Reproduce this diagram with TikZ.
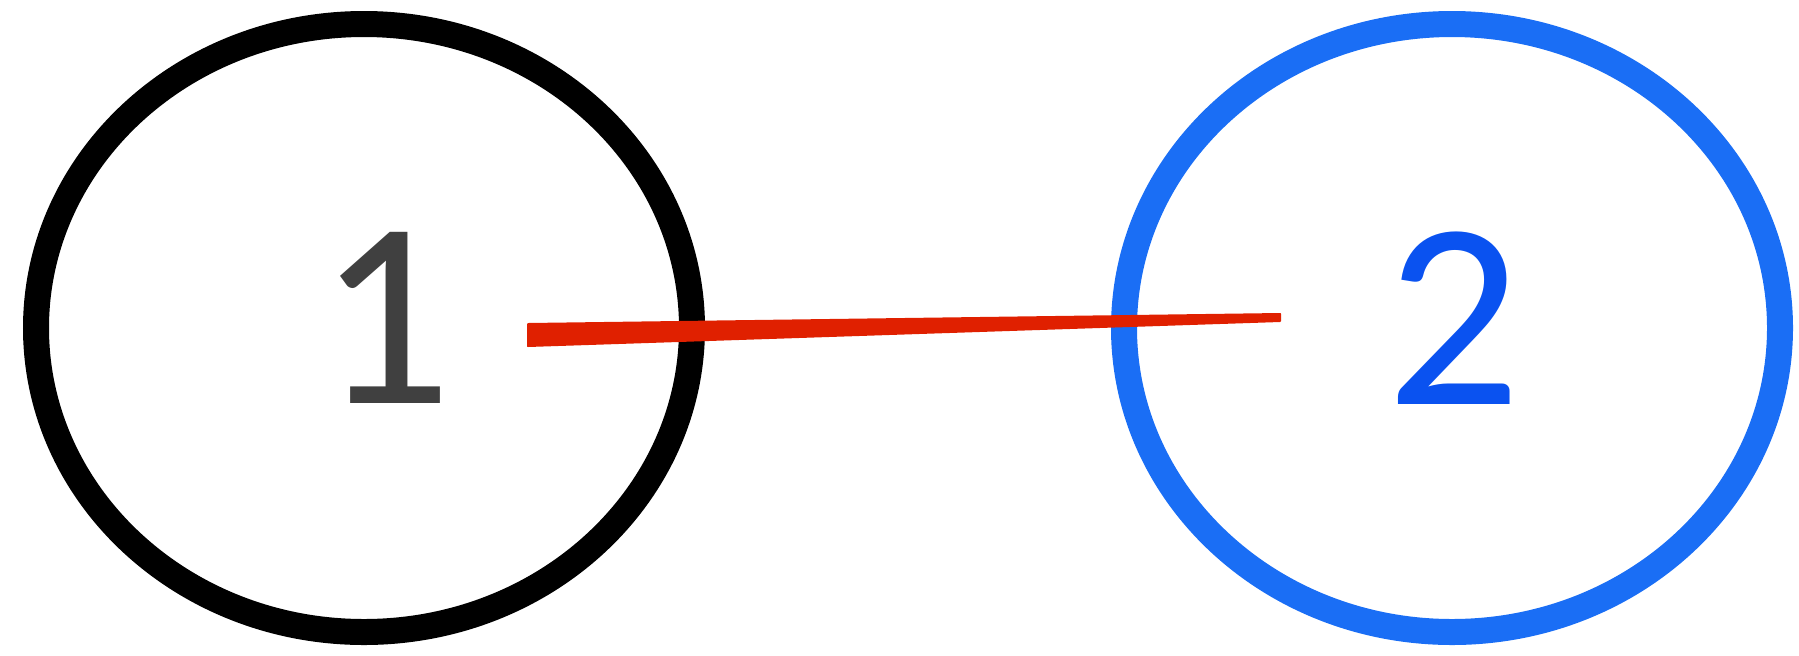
\documentclass[tikz,border=0pt]{standalone}
\usepackage{fontspec}
\setsansfont{Carlito}
\usepackage{tikz}
\usetikzlibrary{shapes.geometric, calc}

\definecolor{ringblue}{HTML}{1A6EF5}
\definecolor{digitblue}{HTML}{0A52F0}
\definecolor{digitgray}{HTML}{404040}
\definecolor{brushred}{HTML}{E02000}

\begin{document}
\begin{tikzpicture}[
    x=0.5pt, y=-0.5pt,
    ring/.style={ellipse, draw, line width=13pt, minimum width=328pt, minimum height=304pt, inner sep=0pt},
    digit/.style={font=\sffamily\fontsize{133}{133}\selectfont},
    brush/.style={fill=brushred, draw=brushred, line width=1pt, line join=round},
]
\useasboundingbox (0,0) rectangle (1799,655);
\node[ring, draw=black] (c1) at (364,328) {};
\node[ring, draw=ringblue] (c2) at (1452,328) {};
\node[digit, text=digitgray] (d1) at (385,318) {1};
\node[digit, text=digitblue] (d2) at (1454,318) {2};
\coordinate (s) at (528,335);
\coordinate (e) at (1280,318);
% tapered brush stroke
\path[brush] ($(s)+(0,-11)$) -- ($(e)+(0,-4)$) -- ($(e)+(0,3)$) -- ($(s)+(0,11)$) -- cycle;
\end{tikzpicture}
\end{document}
